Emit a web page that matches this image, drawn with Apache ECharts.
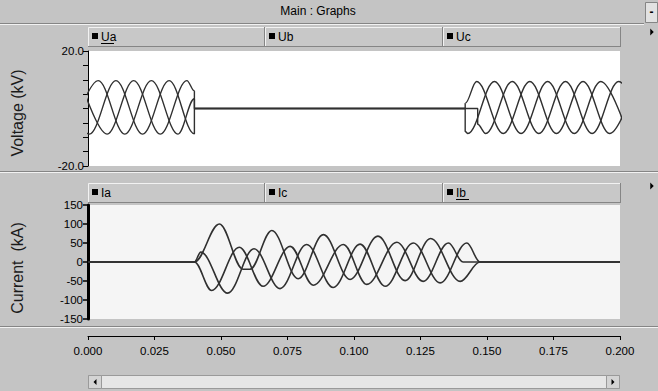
<!DOCTYPE html>
<html>
<head>
<meta charset="utf-8">
<script src="https://cdn.jsdelivr.net/npm/echarts@6/dist/echarts.min.js"></script>
<style>
  html, body { margin: 0; padding: 0; background: #c4c4c4; }
  #main { width: 658px; height: 391px; }
</style>
</head>
<body>
<div id="main"></div>
<script>
// ---- axes ----
const timeRange = [0, 0.2];          // s
const timeStep = 0.025;
const voltageRange = [-20, 20];      // kV
const voltageStep = 5;
const voltageTickLabels = ['20.0', '-20.0'];
const currentRange = [-150, 150];    // kA
const currentStep = 50;

// ---- series names (header tabs) ----
const voltageNames = ['Ua', 'Ub', 'Uc'];
const currentNames = ['Ia', 'Ic', 'Ib'];

// ---- phase voltages, kV: turning points and switching instants [t, u] ----
const ua = [[-0.0095, 9.7], [0.0005, -8.9], [0.0105, 9.7], [0.0205, -8.9], [0.0305, 9.7],
            [0.0400, -8.8], [0.0400, 0], [0.1418, 0], [0.1418, 1.8],
            [0.1461, 9.4], [0.1561, -8.7], [0.1661, 9.4], [0.1761, -8.7], [0.1861, 9.4],
            [0.1961, -8.7], [0.2061, 9.4]];
const ub = [[-0.00283, 9.7], [0.00717, -8.9], [0.01717, 9.7], [0.02717, -8.9], [0.03717, 9.7],
            [0.0400, 6.1], [0.0400, 0], [0.1418, 0], [0.1418, -8.0],
            [0.1428, -8.7], [0.1528, 9.4], [0.1628, -8.7], [0.1728, 9.4], [0.1828, -8.7],
            [0.1928, 9.4], [0.2028, -8.7]];
const uc = [[-0.00617, -8.9], [0.00383, 9.7], [0.01383, -8.9], [0.02383, 9.7], [0.03383, -8.9],
            [0.0400, 3.4], [0.0400, 0], [0.1465, 0], [0.1465, -5.5],
            [0.1495, -8.7], [0.1595, 9.4], [0.1695, -8.7], [0.1795, 9.4], [0.1895, -8.7],
            [0.1995, 9.4], [0.2095, -8.7]];

// ---- phase currents, kA: turning points and switching instants [t, i] ----
const ia = [[0, 0], [0.0400, 0], [0.0494, 100], [0.0583, -19], [0.0609, -19], [0.0691, 83],
            [0.0790, -44], [0.0885, 72], [0.0985, -46], [0.1090, 68], [0.1192, -49],
            [0.1288, 62], [0.1399, -51], [0.1474, 0], [0.2, 0]];
const ic = [[0, 0], [0.0400, 0], [0.0424, 26], [0.0525, -82], [0.0624, 35], [0.0722, -70],
            [0.0822, 46], [0.0922, -67], [0.1023, 47], [0.1117, -64], [0.1223, 50],
            [0.1324, -55], [0.1424, 50], [0.1474, 0], [0.2, 0]];
const ib = [[0, 0], [0.0400, 0], [0.0465, -75], [0.0569, 39], [0.0658, -64], [0.0760, 41],
            [0.0847, -61], [0.0960, 46], [0.1048, -59], [0.1161, 52], [0.1260, -51],
            [0.1355, 50], [0.1410, 0], [0.2, 0]];

const voltageData = [ua, ub, uc];
const currentData = [ia, ic, ib];

const FONT = "'Liberation Sans Narrow', 'Liberation Sans', Arial, sans-serif";
const BG = '#c4c4c4';
const DARK = '#858585';
const LIGHT = '#f2f2f2';

const chart = echarts.init(document.getElementById('main'), null, { renderer: 'svg' });

// plot geometry
const PL = 88, PW = 532;
const V_TOP = 51, V_H = 115;
const I_TOP = 205, I_H = 114;

function traceSeries(name, data, axisIndex, width) {
  return {
    name, type: 'line', data,
    xAxisIndex: axisIndex, yAxisIndex: axisIndex,
    showSymbol: false, symbol: 'none',
    smooth: 0.36, smoothMonotone: 'x',
    lineStyle: { color: '#303030', width },
    emphasis: { disabled: true },
    silent: true, animation: false, clip: true
  };
}

// header tab row above a plot
function tabRow(top, names, underlined) {
  const els = [];
  const edges = [PL, 265, 443, 621];
  names.forEach((n, k) => {
    const x0 = edges[k], x1 = edges[k + 1], h = 20;
    els.push({ type: 'rect', shape: { x: x0, y: top, width: x1 - x0, height: h },
               style: { fill: '#c8c8c8' }, silent: true });
    els.push({ type: 'line', shape: { x1: x0 + 0.5, y1: top + 0.5, x2: x1 - 0.5, y2: top + 0.5 },
               style: { stroke: LIGHT, lineWidth: 1 }, silent: true });
    els.push({ type: 'line', shape: { x1: x0 + 0.5, y1: top + 0.5, x2: x0 + 0.5, y2: top + h },
               style: { stroke: LIGHT, lineWidth: 1 }, silent: true });
    els.push({ type: 'line', shape: { x1: x1 - 0.5, y1: top, x2: x1 - 0.5, y2: top + h },
               style: { stroke: DARK, lineWidth: 1 }, silent: true });
    els.push({ type: 'line', shape: { x1: x0, y1: top + h - 0.5, x2: x1, y2: top + h - 0.5 },
               style: { stroke: DARK, lineWidth: 1 }, silent: true });
    els.push({ type: 'rect', shape: { x: x0 + 4, y: top + 6, width: 6, height: 6 },
               style: { fill: '#000' }, silent: true });
    els.push({ type: 'text', x: x0 + 13, y: top + 9.5,
               style: { text: n, fill: '#000', font: '12px ' + FONT, verticalAlign: 'middle' }, silent: true });
    if (n === underlined) {
      els.push({ type: 'line', shape: { x1: x0 + 13, y1: top + 16.5, x2: x0 + 13 + n.length * 6.5, y2: top + 16.5 },
                 style: { stroke: '#000', lineWidth: 1 }, silent: true });
    }
  });
  return els;
}

function hline(y, x1, x2, color) {
  return { type: 'line', shape: { x1, y1: y, x2, y2: y }, style: { stroke: color, lineWidth: 1 }, silent: true };
}

function rightArrow(cx, cy, s) {
  return { type: 'polygon', shape: { points: [[cx - s / 2, cy - s], [cx + s / 2, cy], [cx - s / 2, cy + s]] },
           style: { fill: '#000' }, silent: true };
}
function leftArrow(cx, cy, s) {
  return { type: 'polygon', shape: { points: [[cx + s / 2, cy - s], [cx - s / 2, cy], [cx + s / 2, cy + s]] },
           style: { fill: '#000' }, silent: true };
}

const graphics = [
  // window title
  { type: 'text', x: 318, y: 11,
    style: { text: 'Main : Graphs', fill: '#000', font: '12px ' + FONT, align: 'center', verticalAlign: 'middle' }, silent: true },
  hline(23.5, 0, 644, DARK), hline(24.5, 0, 644, LIGHT),
  { type: 'rect', shape: { x: 645.5, y: 2.5, width: 12, height: 20 }, style: { fill: '#e2e2e2', stroke: DARK, lineWidth: 1 }, silent: true },
  { type: 'text', x: 651.5, y: 12, style: { text: '-', fill: '#000', font: 'bold 12px ' + FONT, align: 'center', verticalAlign: 'middle' }, silent: true },

  // panel separators
  hline(171.5, 0, 658, DARK), hline(172.5, 0, 658, LIGHT),
  hline(326.5, 0, 658, DARK), hline(327.5, 0, 658, LIGHT),

  // axis titles
  { type: 'text', x: 17, y: 113, rotation: Math.PI / 2,
    style: { text: 'Voltage (kV)', fill: '#1a1a1a', font: '16px ' + FONT, align: 'center', verticalAlign: 'middle' }, silent: true },
  { type: 'text', x: 17, y: 268, rotation: Math.PI / 2,
    style: { text: 'Current  (kA)', fill: '#1a1a1a', font: '16px ' + FONT, align: 'center', verticalAlign: 'middle' }, silent: true },

  // side arrows
  rightArrow(652, 32, 3.5), rightArrow(652, 186, 3.5),

  // horizontal scrollbar
  { type: 'rect', shape: { x: 88.5, y: 375.5, width: 531, height: 13 }, style: { fill: '#e6e6e6', stroke: '#9a9a9a', lineWidth: 1 }, silent: true },
  { type: 'rect', shape: { x: 88.5, y: 375.5, width: 13, height: 13 }, style: { fill: '#d4d4d4', stroke: '#9a9a9a', lineWidth: 1 }, silent: true },
  { type: 'rect', shape: { x: 606.5, y: 375.5, width: 13, height: 13 }, style: { fill: '#d4d4d4', stroke: '#9a9a9a', lineWidth: 1 }, silent: true },
  leftArrow(95, 382, 3), rightArrow(613, 382, 3)
].concat(tabRow(27, voltageNames, 'Ua'), tabRow(183, currentNames, 'Ib'));

const hiddenX = i => ({
  type: 'value', gridIndex: i, min: timeRange[0], max: timeRange[1], interval: timeStep,
  show: false
});

const option = {
  backgroundColor: BG,
  animation: false,
  textStyle: { fontFamily: FONT },
  grid: [
    { left: PL, top: V_TOP, width: PW, height: V_H, show: true, backgroundColor: '#ffffff', borderWidth: 0 },
    { left: PL, top: I_TOP, width: PW, height: I_H, show: true, backgroundColor: '#f5f5f5', borderWidth: 0 },
    { left: PL, top: 330, width: PW, height: 6, show: false }
  ],
  xAxis: [
    hiddenX(0),
    hiddenX(1),
    {
      type: 'value', gridIndex: 2, position: 'bottom',
      min: timeRange[0], max: timeRange[1], interval: timeStep,
      axisLine: { show: true, lineStyle: { color: '#000', width: 1 } },
      axisTick: { show: true, length: 4, lineStyle: { color: '#000' } },
      splitLine: { show: false },
      axisLabel: { color: '#000', fontSize: 11.5, margin: 9, formatter: v => v.toFixed(3) }
    }
  ],
  yAxis: [
    {
      type: 'value', gridIndex: 0, min: voltageRange[0], max: voltageRange[1], interval: voltageStep,
      axisLine: { show: true, lineStyle: { color: '#000', width: 1 } },
      axisTick: { show: true, length: 5, lineStyle: { color: '#000' } },
      splitLine: { show: false },
      axisLabel: {
        color: '#000', fontSize: 11.5, margin: 4,
        formatter: v => (v === voltageRange[1] ? voltageTickLabels[0] : v === voltageRange[0] ? voltageTickLabels[1] : '')
      }
    },
    {
      type: 'value', gridIndex: 1, min: currentRange[0], max: currentRange[1], interval: currentStep,
      axisLine: { show: true, lineStyle: { color: '#000', width: 3 } },
      axisTick: { show: true, length: 5, lineStyle: { color: '#000', width: 1.5 } },
      splitLine: { show: false },
      axisLabel: { color: '#000', fontSize: 11.5, margin: 5 }
    },
    { type: 'value', gridIndex: 2, show: false, min: 0, max: 1 }
  ],
  series: voltageNames.map((n, k) => traceSeries(n, voltageData[k], 0, 1.4))
    .concat(currentNames.map((n, k) => traceSeries(n, currentData[k], 1, 1.6))),
  graphic: graphics
};

chart.setOption(option);
</script>
</body>
</html>
